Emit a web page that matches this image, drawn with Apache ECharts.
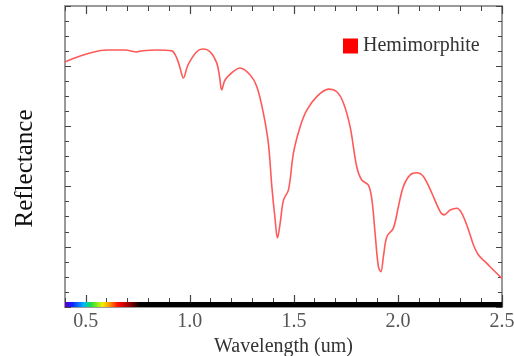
<!DOCTYPE html>
<html>
<head>
<meta charset="utf-8">
<script src="https://cdn.jsdelivr.net/npm/echarts@6/dist/echarts.min.js"></script>
<style>html,body{margin:0;padding:0;background:#fff}#c{width:514px;height:356px}</style>
</head>
<body>
<div id="c"></div>
<script>
// Wavelength (um)
const wavelengths = [0.400,0.463,0.520,0.600,0.688,0.745,0.761,0.841,0.913,0.937,0.953,0.969,0.991,1.033,1.063,1.097,1.129,1.143,1.153,1.169,1.208,1.241,1.290,1.322,1.353,1.377,1.394,1.410,1.421,1.434,1.450,1.474,1.498,1.530,1.562,1.610,1.666,1.706,1.738,1.770,1.802,1.826,1.858,1.875,1.890,1.906,1.918,1.930,1.947,1.978,2.002,2.026,2.059,2.091,2.123,2.163,2.203,2.222,2.251,2.283,2.307,2.339,2.363,2.387,2.427,2.467,2.500];
// Reflectance (relative)
const reflectance = [0.814,0.831,0.844,0.854,0.854,0.847,0.850,0.854,0.851,0.827,0.794,0.761,0.804,0.848,0.857,0.848,0.811,0.764,0.721,0.754,0.782,0.794,0.771,0.732,0.645,0.545,0.400,0.289,0.229,0.279,0.355,0.389,0.512,0.599,0.654,0.699,0.724,0.715,0.678,0.599,0.466,0.422,0.405,0.355,0.246,0.134,0.117,0.167,0.234,0.262,0.333,0.400,0.439,0.446,0.433,0.378,0.317,0.306,0.322,0.328,0.311,0.256,0.206,0.173,0.145,0.117,0.095];
const majorTicks = [0.5,1.0,1.5,2.0,2.5];
const seriesName = 'Hemimorphite';

const chart = echarts.init(document.getElementById('c'), null, {renderer:'canvas'});
const serif = 'Liberation Serif, Times New Roman, serif';
const tickColor = '#444';
function xAx(pos, len, custom, extra){
  return Object.assign({
    type:'value', position:pos, min:0.4, max:2.5, interval:0.1,
    axisLine:{show:false}, splitLine:{show:false},
    axisTick: custom ? {show:true, inside:true, length:len, customValues:majorTicks, lineStyle:{color:tickColor,width:1.2}}
                     : {show:true, inside:true, length:len, lineStyle:{color:tickColor,width:1}},
    axisLabel:{show:false}
  }, extra||{});
}
function yAx(pos, extra){
  return Object.assign({
    type:'value', position:pos, min:0, max:1, interval:0.2,
    axisLine:{show:false}, splitLine:{show:false},
    axisTick:{show:true, inside:true, length:6, lineStyle:{color:tickColor}},
    minorTick:{show:true, splitNumber:4, length:4, lineStyle:{color:tickColor}},
    axisLabel:{show:false}
  }, extra||{});
}
const rainbow = {type:'linear', x:0, y:0, x2:1, y2:0, colorStops:[
  {offset:0, color:'#5a00d0'},{offset:0.1, color:'#1020ff'},{offset:0.25, color:'#00b8ff'},
  {offset:0.35, color:'#20e040'},{offset:0.5, color:'#f0f000'},{offset:0.6, color:'#ff9000'},
  {offset:0.7, color:'#ff1000'},{offset:0.85, color:'#a00000'},{offset:1, color:'#000000'}]};

chart.setOption({
  animation:false,
  backgroundColor:'#fff',
  grid:{left:65, right:12, top:6, bottom:49, show:true, borderColor:'#9a9a9a', borderWidth:2,
        backgroundColor:'transparent', containLabel:false, outerBoundsMode:'none'},
  legend:{
    left:338, top:31, itemWidth:15, itemHeight:15, icon:'rect',
    textStyle:{fontFamily:serif, fontSize:20, color:'#333'},
    itemStyle:{color:'#ff0000'},
    data:[seriesName]
  },
  xAxis:[
    xAx('bottom', 9, false, {
      name:'Wavelength (um)', nameLocation:'middle', nameGap:29,
      nameTextStyle:{fontFamily:serif, fontSize:20, color:'#333'},
      axisLabel:{show:true, interval:0, margin:5, fontFamily:serif, fontSize:20, color:'#555',
        formatter:function(v){ const d=v*2; return Math.abs(d-Math.round(d))<1e-6 ? v.toFixed(1) : ''; }}
    }),
    xAx('bottom', 12, true),
    xAx('top', 5, false),
    xAx('top', 8, true)
  ],
  yAxis:[
    yAx('left', {name:'Reflectance', nameLocation:'middle', nameGap:27, nameRotate:90,
      nameTextStyle:{fontFamily:serif, fontSize:25, color:'#111', padding:[0,24,0,0]}}),
    yAx('right')
  ],
  series:[{
    name:seriesName, type:'line', xAxisIndex:0, yAxisIndex:0,
    data: wavelengths.map((w,i)=>[w, reflectance[i]]),
    smooth:0.35, showSymbol:false, symbol:'none',
    lineStyle:{color:'#ff5a5a', width:1.6},
    itemStyle:{color:'#ff5a5a'},
    z:3,
    markArea:{
      silent:true, z:1,
      data:[
        [{xAxis:0.4, yAxis:0, itemStyle:{color:'#000'}},{xAxis:2.5, yAxis:0.017}],
        [{xAxis:0.4, yAxis:0, itemStyle:{color:rainbow}},{xAxis:0.76, yAxis:0.017}]
      ]
    }
  }]
});
</script>
</body>
</html>
